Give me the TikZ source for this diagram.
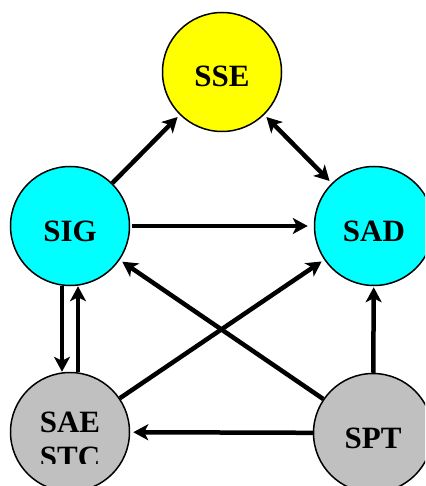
\documentclass[tikz,border=0pt]{standalone}
\usepackage{fontspec}
\setmainfont{Liberation Serif}
\usetikzlibrary{arrows.meta}
\definecolor{sysyellow}{RGB}{255,255,0}
\definecolor{syscyan}{RGB}{0,255,255}
\definecolor{sysgray}{RGB}{192,192,192}
\begin{document}
\begin{tikzpicture}[x=1pt, y=-1pt, >={Stealth[length=15pt,width=16pt,inset=4pt]},
 sys/.style={circle, draw, line width=1.5pt, minimum size=119pt, inner sep=0pt, font=\fontsize{31}{35}\selectfont\bfseries, text height=30pt, text depth=0pt},
 arr/.style={->, line width=4.5pt, shorten >=3pt}]
 \useasboundingbox (0,0) rectangle (425,486);
 \clip (0,0) rectangle (425,486);
 \node[sys, fill=sysyellow] (sse) at (222,72) {SSE};
 \node[sys, fill=syscyan] (sig) at (70,226) {SIG};
 \node[sys, fill=syscyan] (sad) at (374,226) {SAD};
 \node[sys, fill=sysgray] (sae) at (70,432) {};
 \node[sys, fill=sysgray] (spt) at (373,433) {SPT};
 % second line of the label is cut off
 \begin{scope}
  \clip (0,0) rectangle (425,463);
  \node[font=\fontsize{31}{35}\selectfont\bfseries, align=center, anchor=north, inner sep=0pt] (saetxt) at (70,412) {SAE\\STC};
 \end{scope}
 \draw[arr] (sig) -- (sse);
 \draw[arr, <->, shorten <=3pt] (sse) -- (sad);
 \draw[arr, shorten >=6pt, shorten <=2pt] (sig) -- (sad);
 \draw[arr, shorten >=0pt] ([xshift=-8pt]sig.south) -- ([xshift=-8pt]sae.north);
 \draw[arr, shorten >=0pt] ([xshift=8pt]sae.north) -- ([xshift=8pt]sig.south);
 \draw[arr] (spt) -- (sig);
 \draw[arr] (sae) -- (sad);
 \draw[arr, shorten >=1pt] (spt) -- (sad);
 \draw[arr] (spt) -- (sae);
\end{tikzpicture}
\end{document}
